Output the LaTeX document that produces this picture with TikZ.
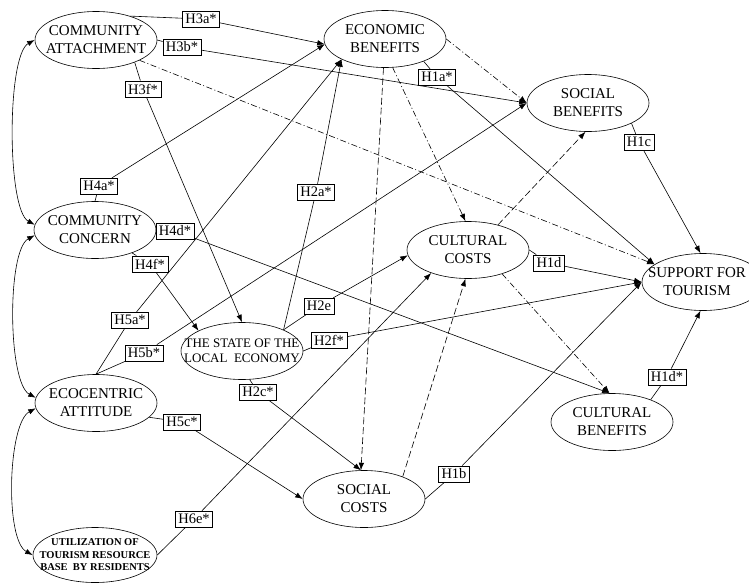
\documentclass[tikz,border=0pt]{standalone}
\usepackage{fontspec}
\setmainfont{Liberation Serif}
\usetikzlibrary{shapes.geometric,arrows.meta}
\begin{document}
\begin{tikzpicture}[x=1pt,y=1pt,
  var/.style={draw, ellipse, minimum width=122pt, minimum height=57pt, inner sep=0pt, line width=0.6pt},
  vtext/.style={font=\fontsize{15}{18}\selectfont, align=center, inner sep=0pt},
  hyp/.style={draw, fill=white, font=\fontsize{14.5}{16}\selectfont, inner xsep=3pt, inner ysep=3pt, line width=0.6pt},
  lnk/.style={line width=0.6pt, -{Latex[length=7.5pt,width=5.5pt]}},
  dashA/.style={lnk, dash pattern=on 7pt off 3pt},
  dashB/.style={lnk, dash pattern=on 6pt off 2.5pt on 1pt off 2.5pt},
  both/.style={line width=0.6pt, {Latex[length=7.5pt,width=5.5pt]}-{Latex[length=7.5pt,width=5.5pt]}}
]
\useasboundingbox (0,0) rectangle (749,-584);
\clip (0,0) rectangle (749,-584);

% constructs
\node[var] (CA)  at (96,-40)   {};
\node[var] (EB)  at (385,-39)  {};
\node[var] (SB)  at (588,-103) {};
\node[var] (CC)  at (95,-230)  {};
\node[var] (CuC) at (468,-250) {};
\node[var] (ST)  at (703,-282) {};
\node[var] (SLE) at (242,-351) {};
\node[var] (EA)  at (96,-403)  {};
\node[var] (CB)  at (612,-422) {};
\node[var] (SC)  at (364,-499) {};
\node[var, minimum width=124pt, minimum height=55pt] (UT) at (95,-555) {};

\node[vtext] (CAt)  at (CA)  {COMMUNITY\\ATTACHMENT};
\node[vtext] (EBt)  at (EB)  {ECONOMIC\\BENEFITS};
\node[vtext] (SBt)  at (SB)  {SOCIAL\\BENEFITS};
\node[vtext] (CCt)  at (CC)  {COMMUNITY\\CONCERN};
\node[vtext] (CuCt) at (CuC) {CULTURAL\\COSTS};
\node[vtext] (STt)  at (697,-282) {SUPPORT FOR\\TOURISM};
\node[vtext, font=\fontsize{13}{15}\selectfont] (SLEt) at (SLE) {THE STATE OF THE\\LOCAL\ \ ECONOMY};
\node[vtext] (EAt)  at (EA)  {ECOCENTRIC\\ATTITUDE};
\node[vtext] (CBt)  at (CB)  {CULTURAL\\BENEFITS};
\node[vtext] (SCt)  at (SC)  {SOCIAL\\COSTS};
\node[vtext, font=\fontsize{10.5}{12.5}\selectfont\bfseries] (UTt) at (UT) {UTILIZATION OF\\TOURISM RESOURCE\\BASE\ \ BY RESIDENTS};

% hypothesis labels
\node[hyp] (H3a) at (201,-19)  {H3a*};
\node[hyp] (H3b) at (182,-47)  {H3b*};
\node[hyp] (H3f) at (143,-89)  {H3f*};
\node[hyp] (H1a) at (437,-77)  {H1a*};
\node[hyp] (H1c) at (639,-142) {H1c};
\node[hyp] (H4a) at (99,-186)  {H4a*};
\node[hyp] (H4d) at (175,-231) {H4d*};
\node[hyp] (H4f) at (150,-264) {H4f*};
\node[hyp] (H2a) at (316,-192) {H2a*};
\node[hyp] (H5a) at (130,-320) {H5a*};
\node[hyp] (H5b) at (144,-353) {H5b*};
\node[hyp] (H2e) at (319,-306) {H2e};
\node[hyp] (H2f) at (329,-340) {H2f*};
\node[hyp] (H2c) at (258,-392) {H2c*};
\node[hyp] (H5c) at (182,-422) {H5c*};
\node[hyp] (H6e) at (194,-519) {H6e*};
\node[hyp] (H1d) at (549,-263) {H1d};
\node[hyp] (H1ds) at (667,-377) {H1d*};
\node[hyp] (H1b) at (454,-474) {H1b};

% correlations between exogenous constructs
\draw[both] (CA.west) .. controls +(-28,-15) and +(-28,15) .. (CC.175);
\draw[both] (CC.185) .. controls +(-28,-15) and +(-28,15) .. (EA.175);
\draw[both] (EA.185) .. controls +(-28,-15) and +(-28,15) .. (UT.west);

% hypothesised paths
\draw[lnk] (CA.35) -- (H3a) -- (EB.185);
\draw[lnk] (CA.east) -- (H3b) -- (SB.west);
\draw[lnk] (CA.-30) -- (H3f) -- (SLE.north);
\draw[dashB] (CA.-25) -- (ST.160);

\draw[lnk] (CC.north) -- (H4a) -- (EB.185);
\draw[lnk] (CC.east) -- (H4d) -- (CB.95);
\draw[lnk] (CC) -- (H4f) -- (SLE.155);

\draw[lnk] (EA.north) -- (H5a) -- (EB.205);
\draw[lnk] (EA.north) -- (H5b) -- (SB.west);
\draw[lnk] (EA.-15) -- (H5c) -- (SC.west);

\draw[lnk] (UT.east) -- (H6e) -- (CuC.212);

\draw[lnk] (SLE.27) -- (H2a) -- (EB.205);
\draw[lnk] (SLE.27) -- (H2e) -- (CuC.185);
\draw[lnk] (SLE.east) -- (H2f) -- (ST.west);
\draw[lnk] (SLE.-75) -- (H2c) -- (SC.96);

\draw[dashA] (EB.-93) -- (SC.96);
\draw[dashB] (EB.-75) -- (CuC.95);
\draw[dashB] (EB.east) -- (SB.west);
\draw[lnk] (EB.-30) -- (H1a) -- (ST.160);

\draw[lnk] (SB.-25) -- (H1c) -- (ST.95);

\draw[dashA] (CuC.40) -- (SB.-95);
\draw[dashB] (CuC.-35) -- (CB.95);
\draw[lnk] (CuC.east) -- (H1d) -- (ST.west);

\draw[dashA] (SC.30) -- (CuC.-95);
\draw[lnk] (SC.east) -- (H1b) -- (ST.west);

\draw[lnk] (CB.30) -- (H1ds) -- (ST.-95);
\end{tikzpicture}
\end{document}
